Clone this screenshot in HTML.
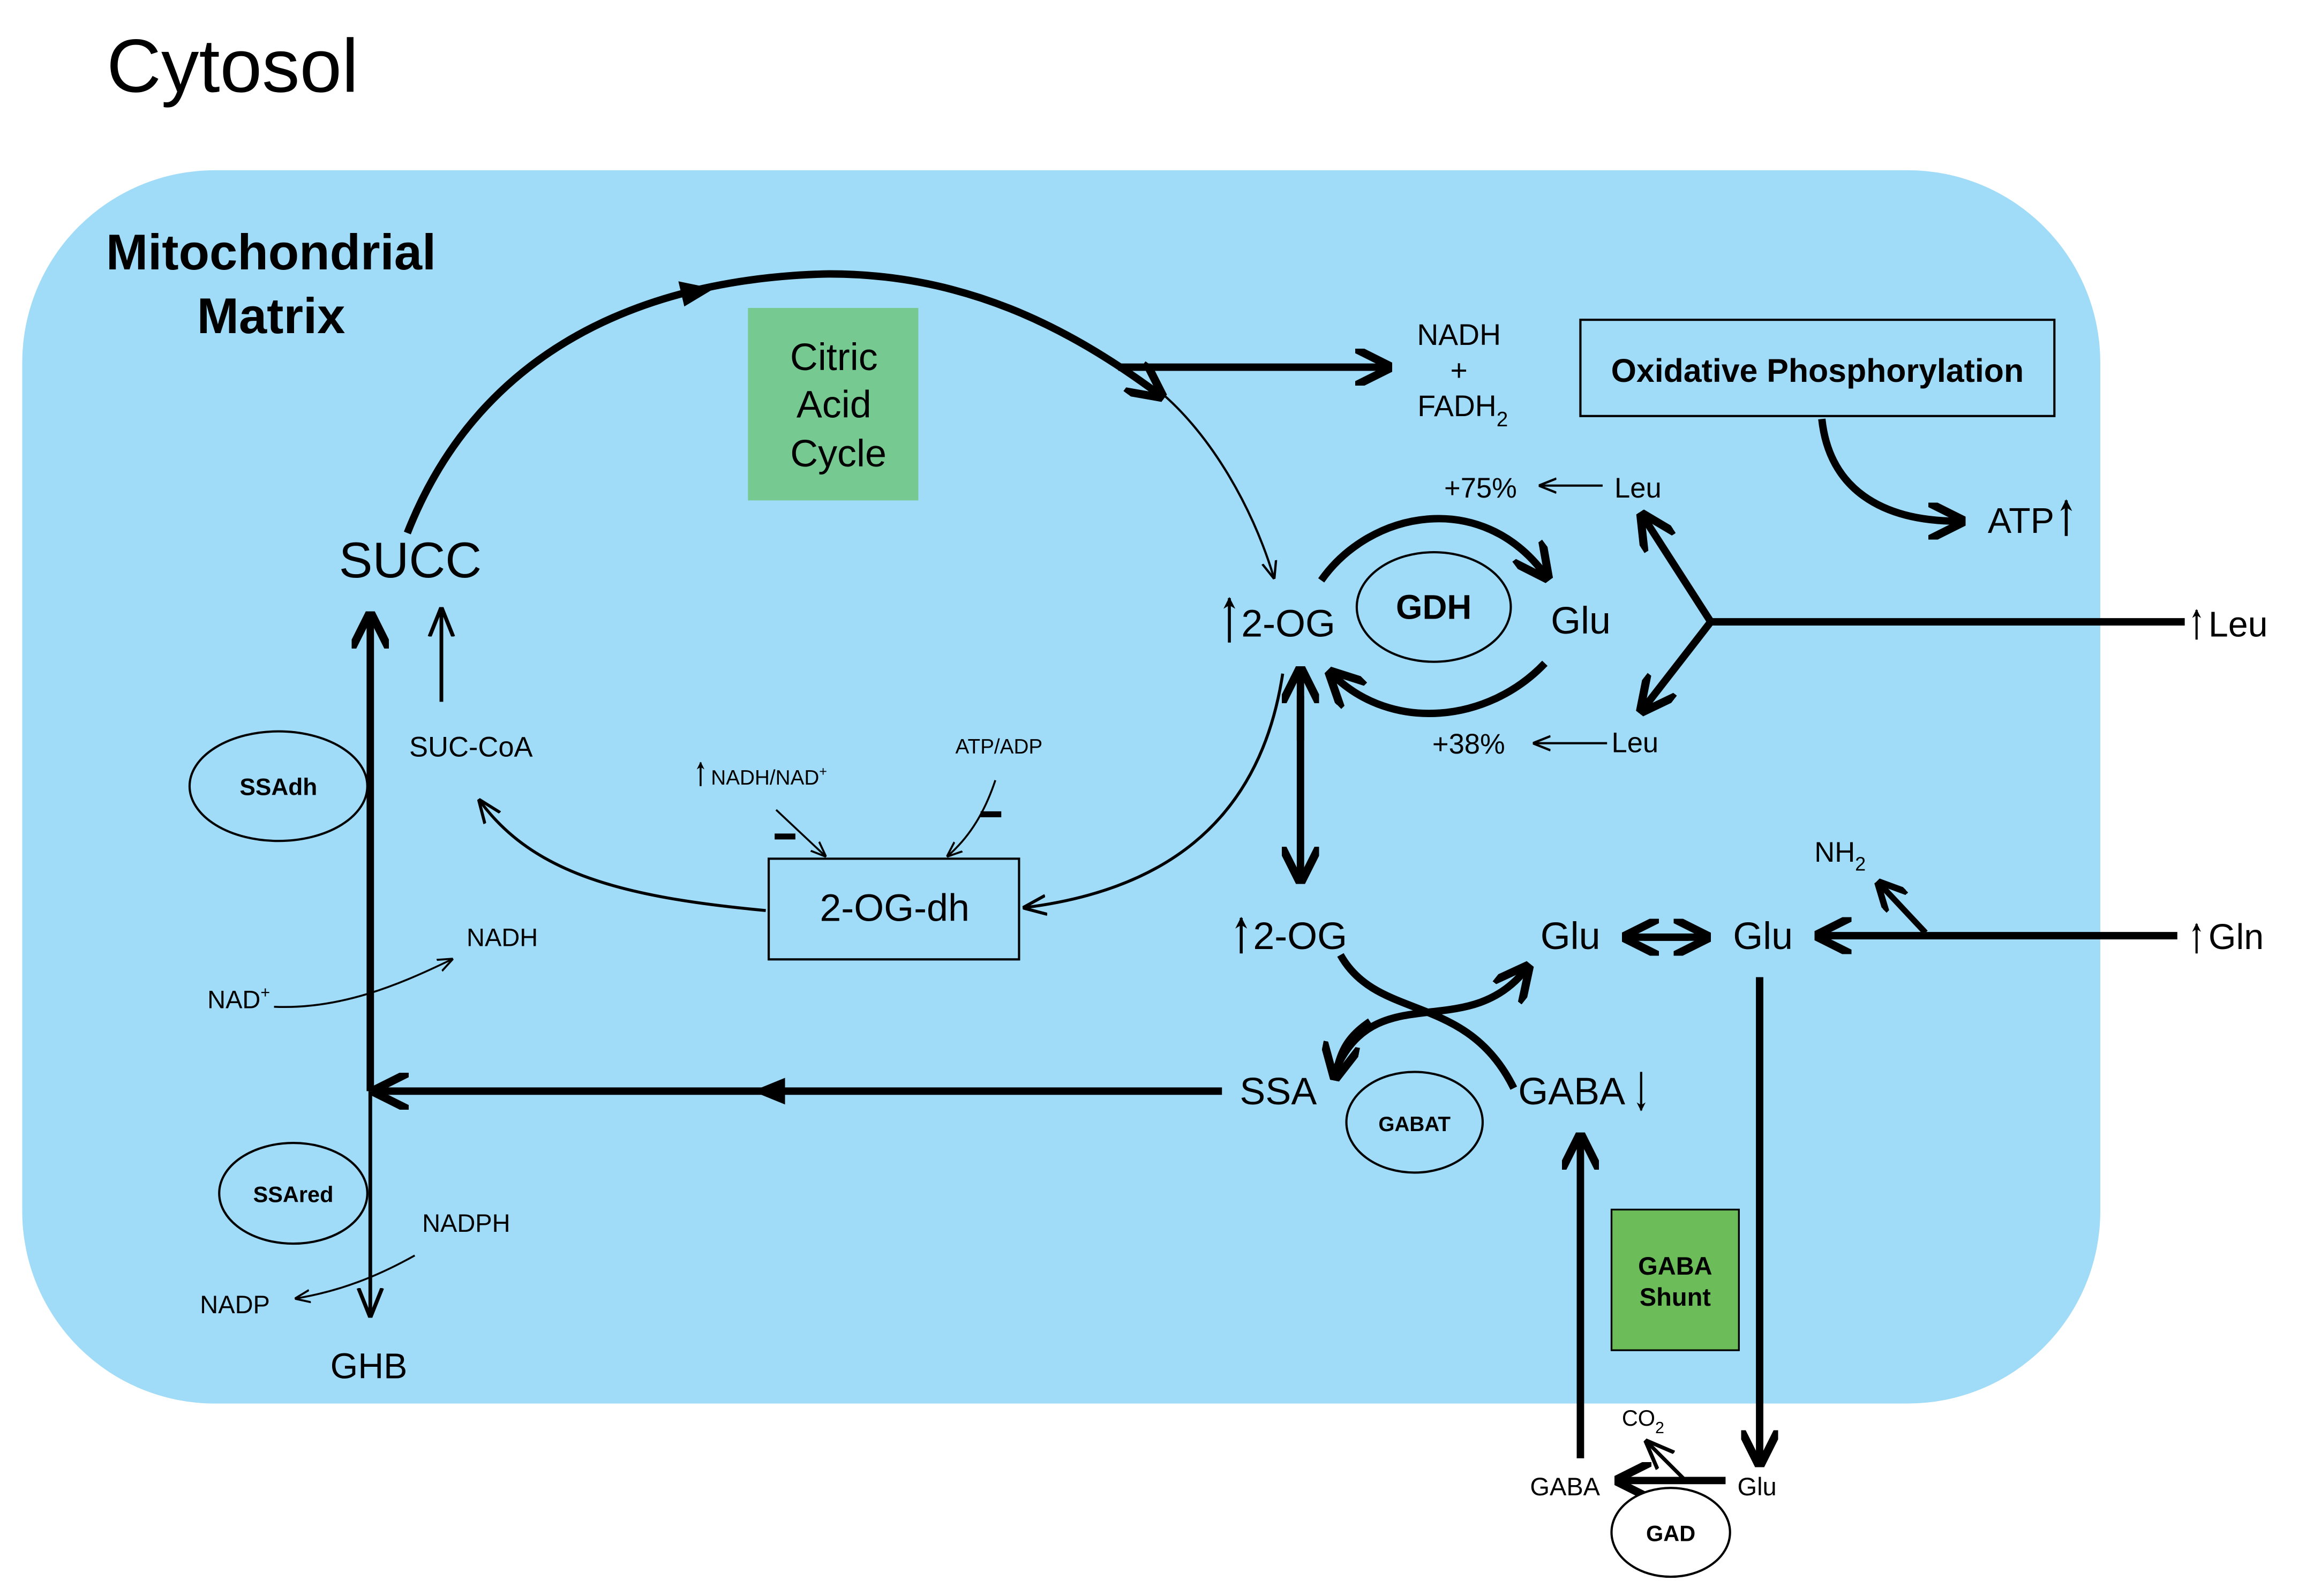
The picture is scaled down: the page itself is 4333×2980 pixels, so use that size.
<!DOCTYPE html>
<html><head><meta charset="utf-8"><style>
html,body{margin:0;padding:0;background:#fff;}
svg{display:block;}
text{font-family:"Liberation Sans","DejaVu Sans",sans-serif;fill:#000;}
</style></head><body>
<svg width="4333" height="2980" viewBox="0 0 1567 1078" preserveAspectRatio="none" xmlns="http://www.w3.org/2000/svg">
<defs>
<marker id="big" viewBox="0 0 10 10" refX="8" refY="5" markerWidth="5" markerHeight="5" orient="auto" markerUnits="strokeWidth"><path d="M0,0 L10,5 L0,10" fill="none" stroke="#000" stroke-width="2.2"/></marker>
<marker id="tri" viewBox="0 0 10 10" refX="9" refY="5" markerWidth="4" markerHeight="4" orient="auto" markerUnits="strokeWidth"><path d="M0,0 L10,5 L0,10 L3,5 z" fill="#000"/></marker>
<marker id="thin" viewBox="0 0 10 10" refX="9" refY="5" markerWidth="8" markerHeight="8" orient="auto" markerUnits="strokeWidth"><path d="M0,1 L10,5 L0,9" fill="none" stroke="#000" stroke-width="1.3"/></marker>
</defs>
<rect x="0" y="0" width="1600" height="1100" fill="#fff"/>
<text x="72" y="62" font-size="51">Cytosol</text>
<rect x="15" y="115" width="1403" height="833" rx="130" fill="#a0dbf8"/>
<text x="183" y="182" font-size="34" font-weight="bold" text-anchor="middle">Mitochondrial</text>
<text x="183" y="225" font-size="34" font-weight="bold" text-anchor="middle">Matrix</text>

<path d="M275,360 C330,220 460,187 560,185 C650,185 720,220 782,266" fill="none" stroke="#000" stroke-width="5" marker-end="url(#big)"/>
<path d="M458,190 L482,195 L462,207 z" fill="#000"/>
<path d="M755,248 L935,248" stroke="#000" stroke-width="5" fill="none" marker-end="url(#big)"/>
<path d="M780,262 C815,290 845,340 860,390" stroke="#000" stroke-width="1.5" fill="none" marker-end="url(#thin)"/>
<rect x="505" y="208" width="115" height="130" fill="#77c992"/>
<text x="563" y="250" font-size="26" text-anchor="middle">Citric</text>
<text x="563" y="282" font-size="26" text-anchor="middle">Acid</text>
<text x="566" y="315" font-size="26" text-anchor="middle">Cycle</text>
<text x="985" y="233" font-size="20" text-anchor="middle">NADH</text>
<text x="985" y="257" font-size="20" text-anchor="middle">+</text>
<text x="957" y="281" font-size="20">FADH<tspan font-size="14" dy="7">2</tspan></text>
<rect x="1067" y="216" width="320" height="65" fill="none" stroke="#000" stroke-width="1.5"/>
<text x="1227" y="258" font-size="22" font-weight="bold" text-anchor="middle">Oxidative Phosphorylation</text>
<path d="M1230,283 C1235,330 1270,352 1322,352" stroke="#000" stroke-width="5" fill="none" marker-end="url(#big)"/>
<text x="1342" y="360" font-size="24">ATP</text>
<path d="M1395,362 L1395,338" stroke="#000" stroke-width="2" marker-end="url(#tri)"/>

<text x="277" y="390" font-size="34" text-anchor="middle">SUCC</text>

<text x="838" y="430" font-size="26">2-OG</text>
<path d="M830,434 L830,404" stroke="#000" stroke-width="2" marker-end="url(#tri)"/>
<ellipse cx="968" cy="410" rx="52" ry="37" fill="none" stroke="#000" stroke-width="1.5"/>
<text x="968" y="418" font-size="23" font-weight="bold" text-anchor="middle">GDH</text>
<text x="1047" y="428" font-size="26">Glu</text>
<path d="M892,392 C925,345 1000,330 1043,388" stroke="#000" stroke-width="5" fill="none" marker-end="url(#big)"/>
<path d="M1043,448 C1005,488 940,495 900,456" stroke="#000" stroke-width="5" fill="none" marker-end="url(#big)"/>
<text x="975" y="336" font-size="19">+75%</text>
<path d="M1082,328 L1040,328" stroke="#000" stroke-width="1.5" marker-end="url(#thin)"/>
<text x="1090" y="336" font-size="19">Leu</text>
<text x="967" y="509" font-size="19">+38%</text>
<path d="M1085,502 L1036,502" stroke="#000" stroke-width="1.5" marker-end="url(#thin)"/>
<text x="1088" y="508" font-size="19">Leu</text>
<path d="M1475,420 L1155,420" stroke="#000" stroke-width="5"/>
<path d="M1155,420 L1110,350" stroke="#000" stroke-width="5" marker-end="url(#big)"/>
<path d="M1155,420 L1110,478" stroke="#000" stroke-width="5" marker-end="url(#big)"/>
<path d="M1483,432 L1483,412" stroke="#000" stroke-width="1.5" marker-end="url(#tri)"/>
<text x="1491" y="430" font-size="24">Leu</text>

<path d="M878,470 L878,592" stroke="#000" stroke-width="5" marker-end="url(#big)"/>
<path d="M878,500 L878,455" stroke="#000" stroke-width="5" marker-end="url(#big)"/>
<path d="M866,455 C850,560 780,602 692,613" stroke="#000" stroke-width="2" fill="none" marker-end="url(#thin)"/>
<rect x="519" y="580" width="169" height="68" fill="none" stroke="#000" stroke-width="1.5"/>
<text x="604" y="622" font-size="26" text-anchor="middle">2-OG-dh</text>
<path d="M517,615 C420,606 360,590 324,541" stroke="#000" stroke-width="2" fill="none" marker-end="url(#thin)"/>
<text x="318" y="511" font-size="19" text-anchor="middle">SUC-CoA</text>
<path d="M298,474 L298,412" stroke="#000" stroke-width="2.5" marker-end="url(#thin)"/>
<path d="M473,531 L473,515" stroke="#000" stroke-width="1.3" marker-end="url(#tri)"/>
<text x="480" y="530" font-size="14">NADH/NAD<tspan font-size="9" dy="-6">+</tspan></text>
<path d="M524,547 L557,578" stroke="#000" stroke-width="1.3" marker-end="url(#thin)"/>
<rect x="523" y="563" width="14" height="4" fill="#000"/>
<text x="645" y="509" font-size="14">ATP/ADP</text>
<path d="M672,527 C665,548 655,565 640,578" stroke="#000" stroke-width="1.3" fill="none" marker-end="url(#thin)"/>
<rect x="662" y="548" width="14" height="4" fill="#000"/>

<ellipse cx="188" cy="531" rx="60" ry="37" fill="none" stroke="#000" stroke-width="1.5"/>
<text x="188" y="537" font-size="16" font-weight="bold" text-anchor="middle">SSAdh</text>
<path d="M250,737 L250,418" stroke="#000" stroke-width="5" marker-end="url(#big)"/>
<path d="M250,737 L250,888" stroke="#000" stroke-width="2.5" marker-end="url(#thin)"/>
<text x="140" y="681" font-size="17">NAD<tspan font-size="11" dy="-7">+</tspan></text>
<path d="M185,680 C230,682 270,665 305,648" stroke="#000" stroke-width="1.3" fill="none" marker-end="url(#thin)"/>
<text x="315" y="639" font-size="17">NADH</text>
<path d="M825,737 L256,737" stroke="#000" stroke-width="5" marker-end="url(#big)"/>
<path d="M530,728 L508,737 L530,746 z" fill="#000"/>
<ellipse cx="198" cy="806" rx="50" ry="34" fill="none" stroke="#000" stroke-width="1.5"/>
<text x="198" y="812" font-size="15" font-weight="bold" text-anchor="middle">SSAred</text>
<text x="285" y="832" font-size="17">NADPH</text>
<path d="M280,848 C255,862 230,872 200,877" stroke="#000" stroke-width="1.3" fill="none" marker-end="url(#thin)"/>
<text x="135" y="887" font-size="17">NADP</text>
<text x="223" y="931" font-size="24">GHB</text>

<path d="M838,644 L838,620" stroke="#000" stroke-width="2" marker-end="url(#tri)"/>
<text x="846" y="641" font-size="26">2-OG</text>
<text x="1040" y="641" font-size="26">Glu</text>
<path d="M1110,633 L1150,633" stroke="#000" stroke-width="5" marker-end="url(#big)"/>
<path d="M1140,633 L1100,633" stroke="#000" stroke-width="5" marker-end="url(#big)"/>
<text x="1170" y="641" font-size="26">Glu</text>
<path d="M1470,632 L1230,632" stroke="#000" stroke-width="5" marker-end="url(#big)"/>
<path d="M1300,630 L1270,598" stroke="#000" stroke-width="4" marker-end="url(#big)"/>
<text x="1225" y="582" font-size="19">NH<tspan font-size="13" dy="6">2</tspan></text>
<path d="M1483,644 L1483,624" stroke="#000" stroke-width="1.5" marker-end="url(#tri)"/>
<text x="1491" y="641" font-size="24">Gln</text>
<path d="M905,645 C930,690 990,670 1022,735" stroke="#000" stroke-width="5" fill="none"/>
<path d="M902,722 C930,660 990,705 1030,655" stroke="#000" stroke-width="5" fill="none" marker-end="url(#big)"/>
<path d="M925,690 C910,700 905,710 902,725" stroke="#000" stroke-width="5" fill="none" marker-end="url(#big)"/>
<text x="837" y="746" font-size="26">SSA</text>
<ellipse cx="955" cy="758" rx="46" ry="34" fill="none" stroke="#000" stroke-width="1.5"/>
<text x="955" y="764" font-size="14" font-weight="bold" text-anchor="middle">GABAT</text>
<text x="1025" y="746" font-size="26">GABA</text>
<path d="M1108,724 L1108,750" stroke="#000" stroke-width="1.5" marker-end="url(#tri)"/>
<path d="M1188,660 L1188,986" stroke="#000" stroke-width="5" marker-end="url(#big)"/>
<path d="M1067,985 L1067,770" stroke="#000" stroke-width="5" marker-end="url(#big)"/>
<rect x="1088" y="817" width="86" height="95" fill="#6cbd5a" stroke="#000" stroke-width="1.2"/>
<text x="1131" y="861" font-size="17" font-weight="bold" text-anchor="middle">GABA</text>
<text x="1131" y="882" font-size="17" font-weight="bold" text-anchor="middle">Shunt</text>
<path d="M1165,1000 L1095,1000" stroke="#000" stroke-width="5" marker-end="url(#big)"/>
<path d="M1138,1000 L1112,974" stroke="#000" stroke-width="2.5" marker-end="url(#thin)"/>
<text x="1095" y="963" font-size="15">CO<tspan font-size="11" dy="5">2</tspan></text>
<text x="1033" y="1010" font-size="17">GABA</text>
<text x="1173" y="1010" font-size="17">Glu</text>
<ellipse cx="1128" cy="1035" rx="40" ry="30" fill="#fff" stroke="#000" stroke-width="1.5"/>
<text x="1128" y="1041" font-size="15" font-weight="bold" text-anchor="middle">GAD</text>
</svg>
</body></html>
